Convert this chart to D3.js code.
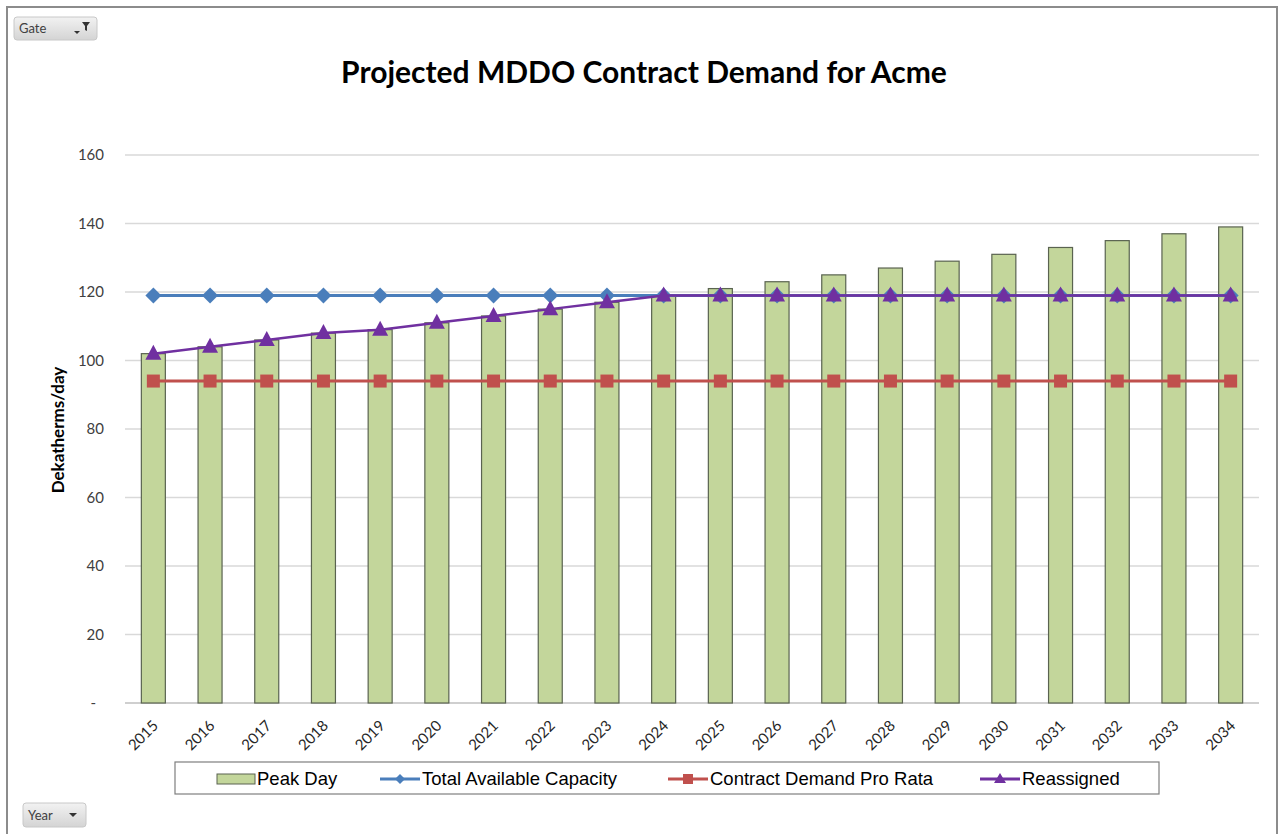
<!DOCTYPE html>
<html>
<head>
<meta charset="utf-8">
<script src="https://cdn.jsdelivr.net/npm/d3@7"></script>
<style>
  body { margin: 0; background: #fff; }
  svg { display: block; }
</style>
</head>
<body>
<script>
var years = ["2015","2016","2017","2018","2019","2020","2021","2022","2023","2024",
             "2025","2026","2027","2028","2029","2030","2031","2032","2033","2034"];
var peakDay = [102,104,106,108,109,111,113,115,117,119,121,123,125,127,129,131,133,135,137,139];
var totalCapacity = [119,119,119,119,119,119,119,119,119,119,119,119,119,119,119,119,119,119,119,119];
var contractDemand = [94,94,94,94,94,94,94,94,94,94,94,94,94,94,94,94,94,94,94,94];
var reassigned = [102,104,106,108,109,111,113,115,117,119,119,119,119,119,119,119,119,119,119,119];
var yTicks = [0,20,40,60,80,100,120,140,160];

var width = 1280, height = 834;
var plotLeft = 125, plotRight = 1259, plotTop = 155, plotBottom = 703;

var svg = d3.select("body").append("svg")
    .attr("width", width)
    .attr("height", height);

// outer frame
svg.append("path")
    .attr("d", "M7,834 V7 H1277 V834")
    .attr("fill", "none")
    .attr("stroke", "#8c8c8c")
    .attr("stroke-width", 2);

var x = d3.scaleBand().domain(years).range([plotLeft, plotRight]).paddingInner(0).paddingOuter(0);
var y = d3.scaleLinear().domain([0, 160]).range([plotBottom, plotTop]);
var cx = function(d, i) { return x(years[i]) + x.bandwidth() / 2; };

// title
svg.append("text")
    .attr("x", 644).attr("y", 83)
    .attr("text-anchor", "middle")
    .attr("font-family", "Lato, sans-serif")
    .attr("font-weight", "bold")
    .attr("font-size", 30)
    .attr("fill", "#000")
    .text("Projected MDDO Contract Demand for Acme");

// gridlines
svg.append("g").selectAll("line")
    .data(yTicks)
    .enter().append("line")
    .attr("x1", plotLeft).attr("x2", plotRight)
    .attr("y1", function(d) { return y(d); })
    .attr("y2", function(d) { return y(d); })
    .attr("stroke", function(d) { return d === 0 ? "#bfbfbf" : "#d9d9d9"; })
    .attr("stroke-width", 1.5);

// y axis labels
var yAxis = d3.axisLeft(y).tickValues(yTicks).tickSize(0).tickPadding(0)
    .tickFormat(function(d) { return d === 0 ? "-" : d; });
var gy = svg.append("g").attr("transform", "translate(" + (plotLeft - 21) + ",0)").call(yAxis);
gy.select(".domain").remove();
gy.selectAll("text")
    .attr("font-family", "Lato, sans-serif")
    .attr("font-size", 15)
    .attr("fill", "#404040")
    .attr("dx", function(d) { return d === 0 ? -8 : 0; });

svg.append("text")
    .attr("transform", "translate(64,430) rotate(-90)")
    .attr("text-anchor", "middle")
    .attr("font-family", "Lato, sans-serif")
    .attr("font-weight", "bold")
    .attr("font-size", 17)
    .text("Dekatherms/day");

// x axis labels
var xAxis = d3.axisBottom(x).tickSize(0).tickPadding(0);
var gx = svg.append("g").attr("transform", "translate(0," + plotBottom + ")").call(xAxis);
gx.select(".domain").remove();
gx.selectAll("text")
    .attr("font-family", "Lato, sans-serif")
    .attr("font-size", 15)
    .attr("fill", "#262626")
    .attr("text-anchor", "end")
    .attr("transform", "translate(2,20) rotate(-45)")
    .attr("dy", "0.35em");

// bars
var barW = 24;
svg.append("g").selectAll("rect")
    .data(peakDay)
    .enter().append("rect")
    .attr("x", function(d, i) { return cx(d, i) - barW / 2; })
    .attr("y", function(d) { return y(d); })
    .attr("width", barW)
    .attr("height", function(d) { return plotBottom - y(d); })
    .attr("fill", "#c3d69b")
    .attr("stroke", "#5a6350")
    .attr("stroke-width", 1.2);

var line = d3.line().x(cx).y(function(d) { return y(d); });

// total available capacity
svg.append("path").datum(totalCapacity)
    .attr("d", line).attr("fill", "none")
    .attr("stroke", "#4a7ebb").attr("stroke-width", 3);
svg.append("g").selectAll("path")
    .data(totalCapacity).enter().append("path")
    .attr("transform", function(d, i) { return "translate(" + cx(d, i) + "," + y(d) + ")"; })
    .attr("d", "M0,-8 L8,0 L0,8 L-8,0 Z")
    .attr("fill", "#4a7ebb");

// contract demand pro rata
svg.append("path").datum(contractDemand)
    .attr("d", line).attr("fill", "none")
    .attr("stroke", "#c0504d").attr("stroke-width", 3);
svg.append("g").selectAll("rect")
    .data(contractDemand).enter().append("rect")
    .attr("x", function(d, i) { return cx(d, i) - 6.5; })
    .attr("y", function(d) { return y(d) - 6.5; })
    .attr("width", 13).attr("height", 13)
    .attr("fill", "#c0504d");

// reassigned
svg.append("path").datum(reassigned)
    .attr("d", line).attr("fill", "none")
    .attr("stroke", "#7030a0").attr("stroke-width", 2.5);
svg.append("g").selectAll("path")
    .data(reassigned).enter().append("path")
    .attr("transform", function(d, i) { return "translate(" + cx(d, i) + "," + y(d) + ")"; })
    .attr("d", "M0,-9 L8,6 L-8,6 Z")
    .attr("fill", "#7030a0");

// legend
var lg = svg.append("g");
lg.append("rect")
    .attr("x", 175).attr("y", 762).attr("width", 984).attr("height", 32)
    .attr("fill", "#fff").attr("stroke", "#7f7f7f").attr("stroke-width", 1.2);

var legendFont = "'Liberation Sans', Arial, sans-serif";
var ly = 779;
lg.append("rect").attr("x", 217).attr("y", ly - 5).attr("width", 38).attr("height", 10)
    .attr("fill", "#c3d69b").attr("stroke", "#5a6350");
lg.append("text").attr("x", 257).attr("y", ly).attr("dy", "0.35em")
    .attr("font-family", legendFont).attr("font-size", 18.5).attr("fill", "#000")
    .text("Peak Day");
var legendItems = [
    {label: "Total Available Capacity", color: "#4a7ebb", x: 380, shape: "diamond"},
    {label: "Contract Demand Pro Rata", color: "#c0504d", x: 668, shape: "square"},
    {label: "Reassigned", color: "#7030a0", x: 980, shape: "triangle"}
];
legendItems.forEach(function(it) {
    lg.append("line").attr("x1", it.x).attr("x2", it.x + 40).attr("y1", ly).attr("y2", ly)
        .attr("stroke", it.color).attr("stroke-width", 3);
    var m = it.x + 20, p;
    if (it.shape === "diamond") p = "M" + m + "," + (ly - 5) + " l5,5 l-5,5 l-5,-5 Z";
    else if (it.shape === "square") p = "M" + (m - 5) + "," + (ly - 5) + " h10 v10 h-10 Z";
    else p = "M" + m + "," + (ly - 6) + " l6,10 h-12 Z";
    lg.append("path").attr("d", p).attr("fill", it.color);
    lg.append("text").attr("x", it.x + 42).attr("y", ly).attr("dy", "0.35em")
        .attr("font-family", legendFont).attr("font-size", 18.5).attr("fill", "#000")
        .text(it.label);
});

// pivot field buttons
var defs = svg.append("defs");
var grad = defs.append("linearGradient").attr("id", "btn").attr("x1", 0).attr("x2", 0).attr("y1", 0).attr("y2", 1);
grad.append("stop").attr("offset", "0%").attr("stop-color", "#f2f2f2");
grad.append("stop").attr("offset", "100%").attr("stop-color", "#d4d4d4");

function button(bx, by, bw, bh, label, filter) {
    var g = svg.append("g");
    g.append("rect").attr("x", bx).attr("y", by).attr("width", bw).attr("height", bh)
        .attr("rx", 3).attr("fill", "url(#btn)").attr("stroke", "#c8c8c8");
    g.append("text").attr("x", bx + 5).attr("y", by + bh / 2).attr("dy", "0.35em")
        .attr("font-family", "Lato, sans-serif").attr("font-size", 13).attr("fill", "#404040")
        .text(label);
    if (filter) {
        g.append("path").attr("d", "M" + (bx + bw - 23) + "," + (by + 14) + " h6 l-3,3 Z").attr("fill", "#333");
        g.append("path").attr("d", "M" + (bx + bw - 15) + "," + (by + 5) + " h8 l-3,4 v5 l-2,-1 v-4 Z").attr("fill", "#333");
    } else {
        g.append("path").attr("d", "M" + (bx + bw - 17) + "," + (by + 10) + " h8 l-4,4 Z").attr("fill", "#333");
    }
}
button(14, 17, 83, 23, "Gate", true);
button(23, 803, 63, 24, "Year", false);
</script>
</body>
</html>
